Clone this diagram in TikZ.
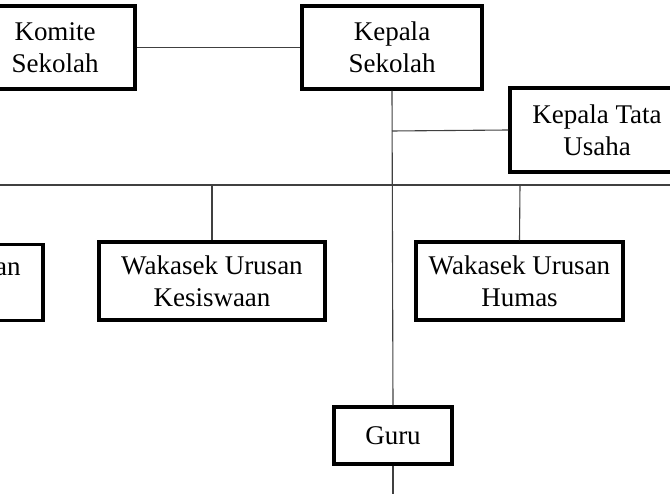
\documentclass[tikz,border=0pt]{standalone}
\usepackage{fontspec}
\setmainfont{Liberation Serif}
\begin{document}
\begin{tikzpicture}[x=1pt,y=-1pt,
  box/.style={draw=black,line width=3.2pt,fill=white,inner sep=0pt,align=center,
    font=\fontsize{27}{32}\selectfont},
  link/.style={draw=black!75,line width=1.1pt}]
\clip (0,0) rectangle (670,494);
\useasboundingbox (0,0) rectangle (670,494);
% nodes
\node[box,minimum width=160pt,minimum height=83pt] (komite) at (55,47.5) {Komite\\Sekolah};
\node[box,minimum width=180pt,minimum height=83pt] (kepsek) at (392,47.5) {Kepala\\Sekolah};
\node[box,minimum width=174pt,minimum height=84pt] (ktu) at (597,130) {Kepala Tata\\Usaha};
\node[box,minimum width=226pt,minimum height=76pt] (kur) at (-70,282.5) {Wakasek Urusan\\Kurikulum};
\node[box,minimum width=226pt,minimum height=78pt] (kes) at (212,281) {Wakasek Urusan\\Kesiswaan};
\node[box,minimum width=207pt,minimum height=78pt] (hum) at (519.5,281) {Wakasek Urusan\\Humas};
\node[box,minimum width=118pt,minimum height=57pt] (guru) at (393,435.5) {Guru};
% coordinates
\coordinate (tktu) at (392,131);
\coordinate (busL) at (0,185);
\coordinate (busR) at (670,185);
\coordinate (bkes) at (212,185);
\coordinate (bhum) at (520,185);
\coordinate (bot) at (393,494);
% connectors
\draw[link] (komite.east) -- (kepsek.west);
\draw[link] (kepsek.south) -- (guru.north);
\draw[link] (guru.south) -- (bot);
\draw[link] (tktu) -- (ktu.west);
\draw[link] (busL) -- (busR);
\draw[link] (bkes) -- (kes.north);
\draw[link] (bhum) -- (hum.north);
\end{tikzpicture}
\end{document}
